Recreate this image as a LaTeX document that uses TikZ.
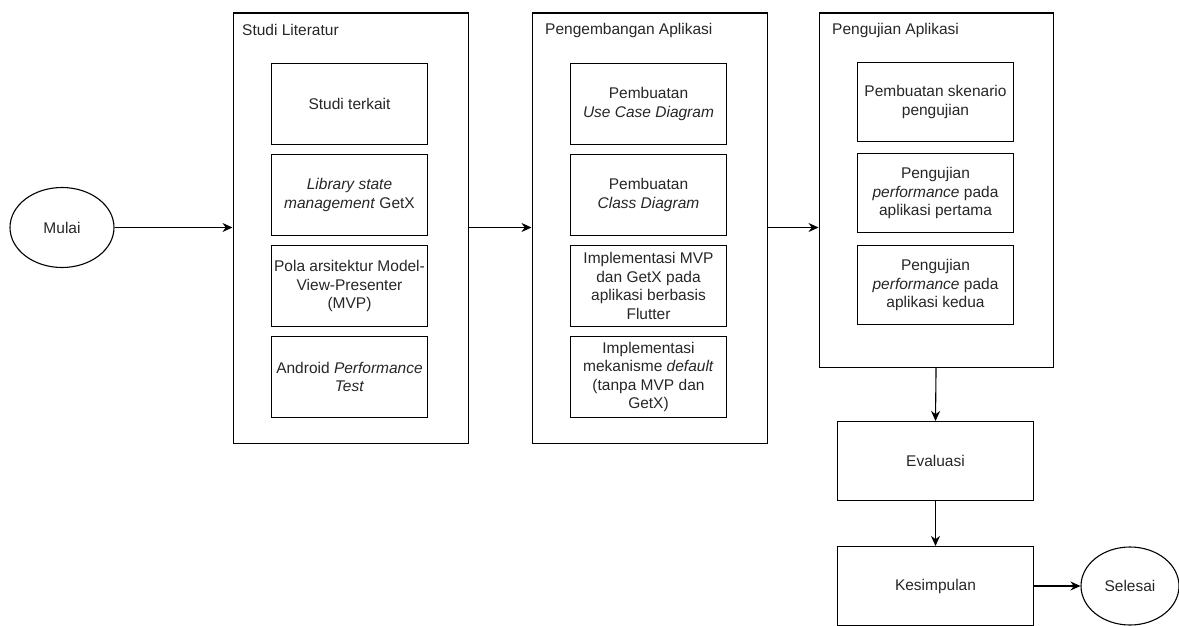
\documentclass[tikz,border=0pt]{standalone}
\usepackage{fontspec}
\setmainfont{Liberation Sans}
\usetikzlibrary{arrows.meta,shapes.geometric}
\begin{document}
\begin{tikzpicture}[x=1pt,y=-1pt,
  every node/.style={font=\fontsize{15.5}{18.6}\selectfont, text=black!85},
  box/.style={draw=black, line width=1.1pt, minimum width=156pt, minimum height=81pt, align=center, inner sep=1pt},
  wbox/.style={box, minimum width=196pt, minimum height=79pt},
  cont/.style={draw=black, line width=1.1pt, anchor=north west, minimum width=235pt, inner sep=0pt},
  ttl/.style={anchor=west, inner sep=0pt},
  ell/.style={draw=black, ellipse, line width=1.1pt, inner sep=0pt},
  arr/.style={draw=black, line width=1.1pt, -{Stealth[length=10pt,width=9pt]}}
]
\useasboundingbox (0,0) rectangle (1179,626);

% start
\node[ell, minimum width=104pt, minimum height=80pt] (mulai) at (62,227.5) {Mulai};

% containers
\node[cont, minimum height=430pt] (c1) at (232.5,12.5) {};
\node[cont, minimum height=430pt] (c2) at (531.5,12.5) {};
\node[cont, minimum height=354pt, minimum width=234pt] (c3) at (818.5,12.5) {};

\node[ttl] (t1) at (242,30) {Studi Literatur};
\node[ttl] (t2) at (545,30) {Pengembangan Aplikasi};
\node[ttl] (t3) at (832,30) {Pengujian Aplikasi};

% Studi Literatur
\node[box] (a1) at (349.5,104) {Studi terkait};
\node[box] (a2) at (349.5,195) {\textit{Library state}\\\textit{management} GetX};
\node[box] (a3) at (349.5,286) {Pola arsitektur Model-\\View-Presenter\\(MVP)};
\node[box] (a4) at (349.5,377) {Android \textit{Performance}\\\textit{Test}};

% Pengembangan Aplikasi
\node[box] (b1) at (648.5,104) {Pembuatan\\\textit{Use Case Diagram}};
\node[box] (b2) at (648.5,195) {Pembuatan\\\textit{Class Diagram}};
\node[box] (b3) at (648.5,286) {Implementasi MVP\\dan GetX pada\\aplikasi berbasis\\Flutter};
\node[box] (b4) at (648.5,377) {Implementasi\\mekanisme \textit{default}\\(tanpa MVP dan\\GetX)};

% Pengujian Aplikasi
\node[box, minimum height=79pt] (d1) at (935.5,102) {Pembuatan skenario\\pengujian};
\node[box, minimum height=79pt] (d2) at (935.5,193) {Pengujian\\\textit{performance} pada\\aplikasi pertama};
\node[box, minimum height=79pt] (d3) at (935.5,285) {Pengujian\\\textit{performance} pada\\aplikasi kedua};

% bottom
\node[wbox] (eval) at (935.5,461) {Evaluasi};
\node[wbox] (kes) at (935.5,586) {Kesimpulan};
\node[ell, minimum width=98pt, minimum height=78pt] (selesai) at (1130,586) {Selesai};

% connectors
\draw[arr] (mulai.east) -- (mulai.east -| c1.west);
\draw[arr] (c1.east |- mulai.east) -- (c2.west |- mulai.east);
\draw[arr] (c2.east |- mulai.east) -- (c3.west |- mulai.east);
\draw[arr] (c3.south) -- (eval.north);
\draw[arr] (eval.south) -- (kes.north);
\draw[arr] (kes.east) -- (selesai.west);
\end{tikzpicture}
\end{document}
